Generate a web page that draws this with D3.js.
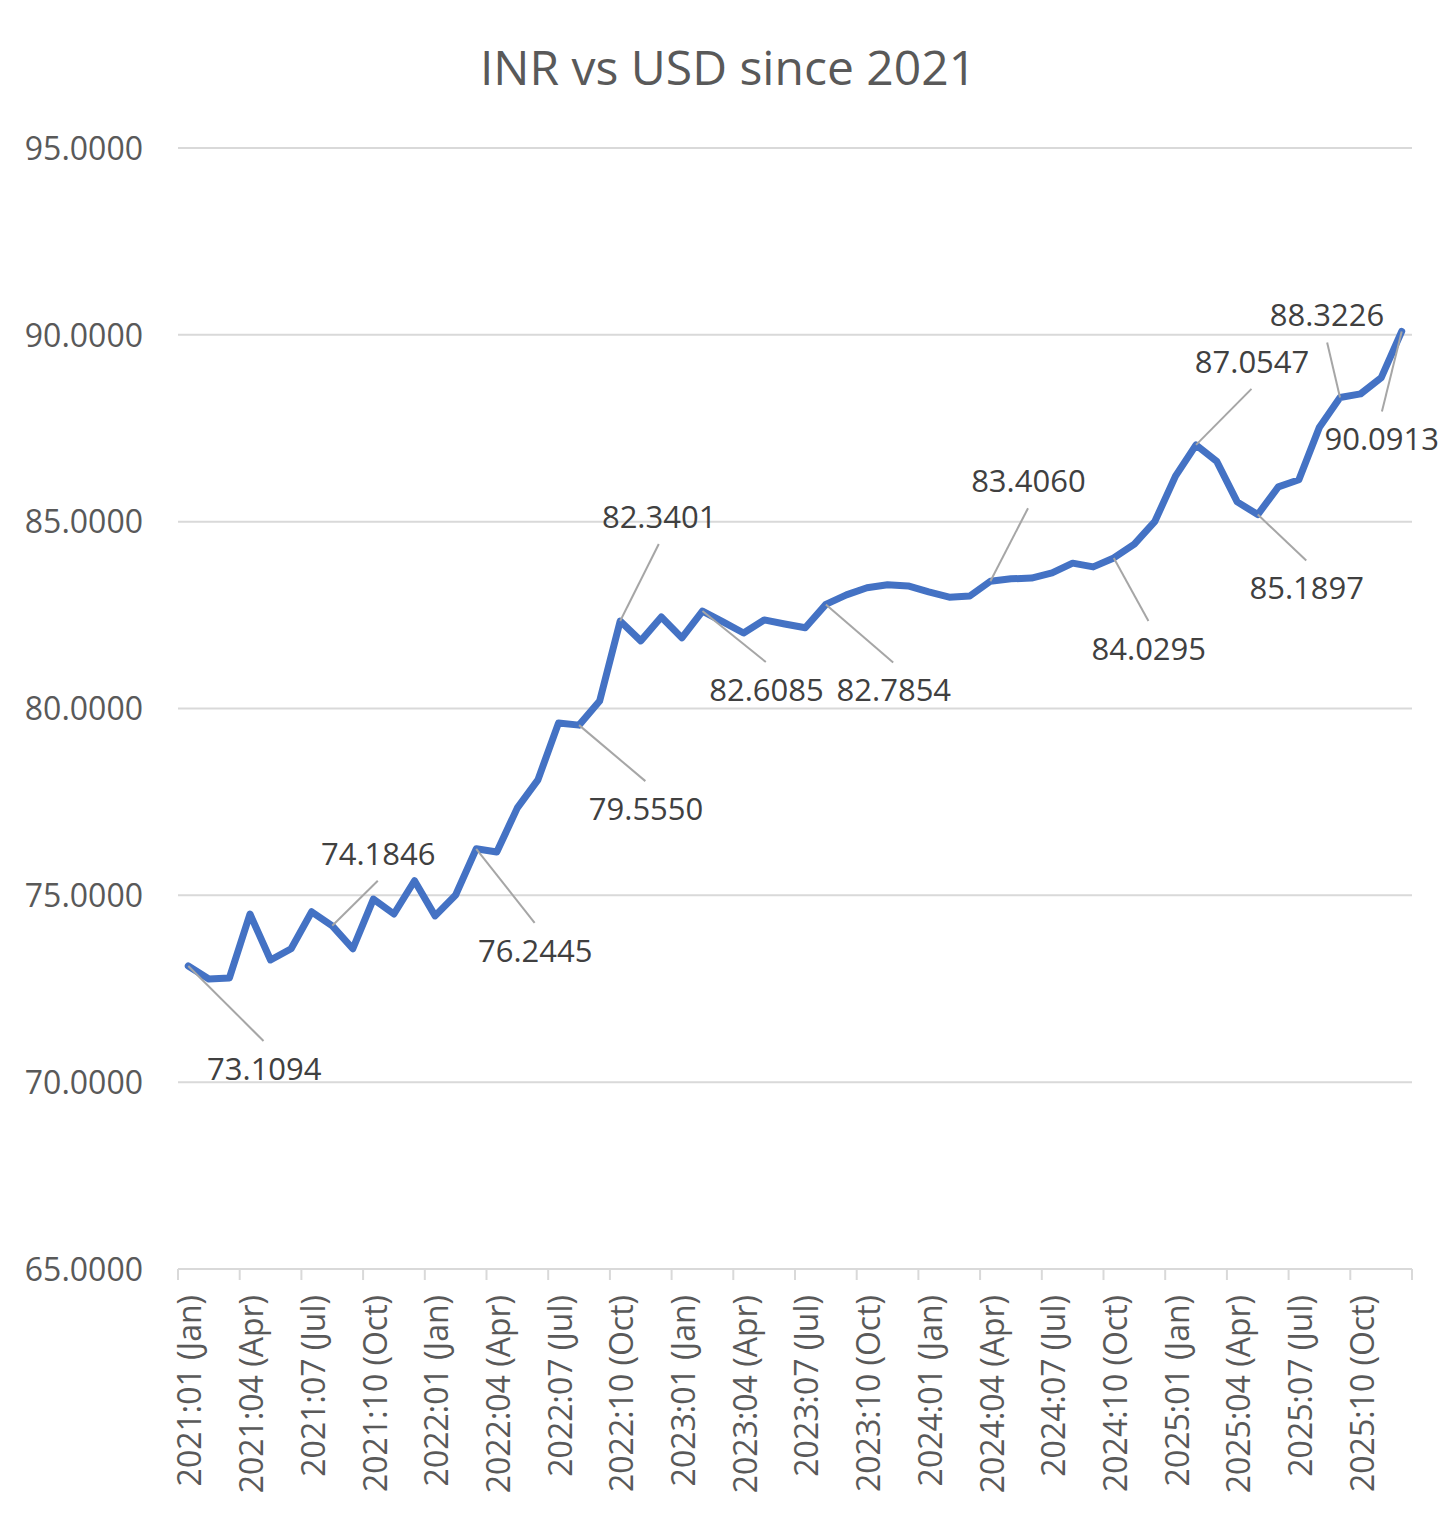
<!DOCTYPE html>
<html>
<head>
<meta charset="utf-8">
<script src="https://cdn.jsdelivr.net/npm/d3@7"></script>
<style>
  body { margin: 0; background: #fff; }
  text { font-family: "Open Sans", "Noto Sans", sans-serif; }
</style>
</head>
<body>
<svg id="chart" width="1456" height="1519"></svg>
<script>
// monthly average INR per USD, 2021:01 .. 2025:12
var months = ["Jan","Feb","Mar","Apr","May","Jun","Jul","Aug","Sep","Oct","Nov","Dec"];
var years = [2021, 2022, 2023, 2024, 2025];
var inr_values = [
  73.1094, 72.76, 72.79, 74.50, 73.27, 73.57, 74.56, 74.1846, 73.57, 74.90, 74.50, 75.39,
  74.45, 75.01, 76.2445, 76.16, 77.34, 78.09, 79.61, 79.5550, 80.20, 82.3401, 81.81, 82.45,
  81.89, 82.6085, 82.32, 82.02, 82.37, 82.26, 82.16, 82.7854, 83.04, 83.23, 83.31, 83.28,
  83.12, 82.98, 83.01, 83.4060, 83.47, 83.49, 83.63, 83.89, 83.79, 84.0295, 84.40, 85.01,
  86.22, 87.0547, 86.62, 85.53, 85.1897, 85.93, 86.12, 87.53, 88.3226, 88.42, 88.85, 90.0913
];
var y_ticks = [65, 70, 75, 80, 85, 90, 95];
// which points carry a value label
var labelled = [0, 7, 14, 19, 21, 25, 31, 39, 45, 49, 52, 56, 59];
// label offsets from the point (text centre), hand placed like the original callouts
var label_offsets = [[76, 103], [46, -72], [59, 102], [67, 84], [39, -104], [64, 79], [68, 86],
                     [38, -100], [35, 91], [56, -83], [49, 74], [-13, -82], [-20, 108]];

var categories = [];
years.forEach(function(yr) {
  months.forEach(function(m, i) {
    categories.push(yr + ":" + (i < 9 ? "0" : "") + (i + 1) + " (" + m + ")");
  });
});
var series = categories.map(function(c, i) { return {label: c, value: inr_values[i]}; });

var margin = {left: 178, right: 44, top: 148, bottom: 250};
var W = 1456, H = 1519;
var svg = d3.select("#chart");

var x = d3.scaleBand().domain(categories).range([margin.left, W - margin.right]).padding(0);
var y = d3.scaleLinear().domain([65, 95]).range([H - margin.bottom, margin.top]);

svg.append("text").attr("x", 728).attr("y", 85).attr("text-anchor", "middle")
   .attr("fill", "#595959").style("font-size", "48px").text("INR vs USD since 2021");

// gridlines
svg.append("g").selectAll("line").data(y_ticks.slice(1)).enter().append("line")
   .attr("x1", margin.left).attr("x2", W - margin.right)
   .attr("y1", function(d) { return y(d); }).attr("y2", function(d) { return y(d); })
   .attr("stroke", "#d9d9d9").attr("stroke-width", 2);

// y axis labels
var yAxis = svg.append("g").attr("transform", "translate(" + (margin.left - 35) + ",0)")
   .call(d3.axisLeft(y).tickValues(y_ticks).tickSize(0).tickFormat(d3.format(".4f")));
yAxis.select(".domain").remove();
yAxis.selectAll("text").attr("fill", "#595959").style("font-size", "32px").attr("x", 0).attr("dy", "0.35em");

// x axis
var xAxis = svg.append("g").attr("transform", "translate(0," + y(65) + ")");
xAxis.append("line").attr("x1", margin.left).attr("x2", W - margin.right)
     .attr("stroke", "#d9d9d9").attr("stroke-width", 2);
var tickIdx = d3.range(0, categories.length + 1, 3);
xAxis.selectAll(".tk").data(tickIdx).enter().append("line").attr("class", "tk")
     .attr("x1", function(i) { return margin.left + i * x.step(); })
     .attr("x2", function(i) { return margin.left + i * x.step(); })
     .attr("y1", 0).attr("y2", 11).attr("stroke", "#d9d9d9").attr("stroke-width", 2);
xAxis.selectAll(".lb").data(categories.filter(function(c, i) { return i % 3 == 0; })).enter()
     .append("text").attr("class", "lb")
     .attr("transform", function(c) { return "translate(" + (x(c) + x.bandwidth() / 2 + 2) + ",26) rotate(-90)"; })
     .attr("text-anchor", "end").attr("dy", "0.35em")
     .attr("fill", "#595959").style("font-size", "32px").text(function(c) { return c; });

// the line
var line = d3.line().x(function(d) { return x(d.label) + x.bandwidth() / 2; }).y(function(d) { return y(d.value); });
svg.append("path").datum(series).attr("d", line).attr("fill", "none")
   .attr("stroke", "#4472c4").attr("stroke-width", 7).attr("stroke-linejoin", "round").attr("stroke-linecap", "round");

// callout labels with leader lines
var lab = svg.append("g").selectAll("g").data(labelled).enter().append("g");
lab.append("line")
   .attr("x1", function(i) { return x(series[i].label) + x.bandwidth() / 2; })
   .attr("y1", function(i) { return y(series[i].value); })
   .attr("x2", function(i, k) { return x(series[i].label) + x.bandwidth() / 2 + label_offsets[k][0] * 0.99; })
   .attr("y2", function(i, k) { var o = label_offsets[k]; return y(series[i].value) + o[1] + (o[1] > 0 ? -28 : 27); })
   .attr("stroke", "#a6a6a6").attr("stroke-width", 2);
lab.append("text")
   .attr("x", function(i, k) { return x(series[i].label) + x.bandwidth() / 2 + label_offsets[k][0]; })
   .attr("y", function(i, k) { return y(series[i].value) + label_offsets[k][1]; })
   .attr("text-anchor", "middle").attr("dy", "0.35em")
   .attr("fill", "#404040").style("font-size", "31px")
   .text(function(i) { return series[i].value.toFixed(4); });
</script>
</body>
</html>
